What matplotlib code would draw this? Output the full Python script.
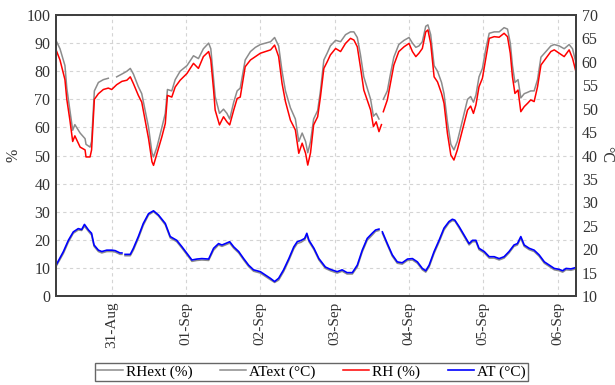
import matplotlib
matplotlib.use('Agg')
import matplotlib.pyplot as plt
import matplotlib.dates as mdates
import numpy as np
import pandas as pd

nan = np.nan

# hours counted from 30-Aug 00:00
rh_hours = [6.0, 7.3, 8.9, 9.5, 10.5, 11.4, 12.1, 13.8, 15.4, 15.7, 17.0, 17.5, 18.4, 19.7, 21.3,
            22.9, 24.0, 25.6, 27.3, 28.9, 30.0, 31.0, 32.6, 33.7, 34.8, 35.9, 37.0, 37.5, 38.6, 40.2,
            41.3, 42.0, 43.4, 44.5, 46.1, 48.3, 50.4, 52.0, 53.6, 55.3, 56.0, 56.9, 57.4, 58.8, 60.1,
            61.2, 62.1, 63.4, 64.5, 65.5, 67.1, 68.8, 70.4, 72.0, 73.6, 75.3, 76.6, 77.9, 79.0, 80.1,
            81.7, 83.3, 84.4, 85.5, 86.6, 87.3, 88.2, 89.2, 90.5, 91.4, 92.5, 93.6, 94.6, 96.3, 97.9,
            99.5, 101.1, 102.2, 103.3, 104.3, 105.4, 106.5, 107.6, 108.5, 109.4, 110.3, 111.1, 111.4, 111.7, 113.0,
            114.0, 115.1, 116.7, 118.4, 120.0, 121.1, 122.2, 123.2, 124.3, 125.4, 126.1, 127.0, 128.1, 129.2, 130.5,
            131.3, 132.4, 133.5, 134.5, 135.6, 136.7, 137.8, 138.9, 139.9, 140.8, 141.6, 142.6, 143.7, 144.8, 145.9,
            147.5, 149.1, 150.7, 151.8, 152.7, 153.4, 154.2, 155.2, 156.1, 157.2, 158.3, 159.3, 160.4, 161.5, 162.6,
            164.2, 165.8, 166.9, 168.5, 170.1, 171.7, 172.8, 173.9]

rh = [87.7, 84, 77, 70, 62.6, 55, 57, 53, 52, 49.5, 49.5, 52, 70, 72, 73.5,
      74, 73.5, 75.2, 76.4, 76.8, 78, 75.6, 71.4, 69, 62.5, 56, 47.8, 46.5, 50.7, 56.7,
      61.4, 71.4, 70.8, 74.4, 76.8, 79.2, 82.8, 81, 85.2, 87, 84, 73.3, 66.2, 60.9, 63.8,
      62, 60.9, 66.2, 70.3, 70.8, 81.6, 84, 85.2, 86.4, 87, 87.6, 89.3, 85.2, 75.7, 69.2,
      62.6, 59.1, 50.8, 54.4, 50.8, 46.6, 51, 60.9, 63.8, 70.9, 81, 83.4, 85.8, 88.1, 87,
      89.9, 91.7, 91.1, 88.7, 81.6, 73.3, 69.8, 66.2, 60.3, 62, 58.5, 61, nan, 65.6, 69.8,
      75.7, 82.2, 87, 88.7, 89.9, 87, 85.2, 86.4, 88.1, 94, 94.7, 89.9, 78, 76.2, 72.1,
      68.6, 57.9, 50.2, 48.4, 52, 56.7, 61.4, 66.2, 67.6, 65, 68, 74.5, 77.5, 84.6, 91.7,
      92.3, 92.1, 93.5, 92.3, 86.4, 78, 72.1, 73.3, 65.6, 67.4, 68.6, 69.8, 69.2, 74.5, 82.2,
      84.6, 87, 87.6, 86.4, 85.2, 87.6, 84.6, 79.8]

rh_ext = [91, 88, 82, 74, 66, 59, 61, 58, 56, 54, 53, 55, 73, 76, 77,
          77.5, nan, 78, 79, 80, 81, 79, 74.5, 72, 66, 60, 51, 49.5, 53, 60,
          65, 73.5, 73, 77, 80, 82, 85.5, 84.5, 88, 90, 88, 77, 71, 65, 66.5,
          65, 63, 69, 73, 74, 84, 87, 88.5, 89.5, 90, 90.5, 92, 89, 80, 73,
          67, 63, 55, 58, 55, 51, 55, 63, 66, 73, 84, 86.5, 89, 91, 90.5,
          93, 94, 94, 92, 86, 78, 74, 70, 64, 65, 63, nan, nan, 70, 73,
          79, 85, 89.5, 91, 92, 90, 88.5, 89, 90.5, 96, 96.5, 93, 82, 80, 76,
          72, 62, 54, 52, 55, 60, 65, 70, 71, 69, 71.5, 78, 81, 88, 93.5,
          94, 94, 95.5, 95, 90, 82, 76, 77, 70.5, 72, 72.5, 73, 73, 77, 85,
          87, 89, 89.5, 89, 88, 89.5, 88, 83]

at_hours = [6.2, 8.4, 10.0, 11.6, 13.2, 14.3, 15.2, 16.5, 17.5, 18.3, 19.7, 20.8, 22.4, 24.0, 25.1,
            26.7, 27.3, 27.8, 28.3, 30.0, 31.0, 32.6, 34.2, 35.9, 37.5, 39.1, 41.3, 42.9, 45.0, 46.7,
            48.3, 49.9, 51.5, 53.1, 55.3, 56.9, 58.5, 59.6, 60.7, 62.1, 63.4, 65.0, 66.6, 68.2, 69.8,
            72.0, 73.6, 75.2, 76.6, 77.9, 79.5, 81.2, 82.8, 83.9, 85.2, 86.3, 87.0, 87.7, 89.3, 90.9,
            93.0, 94.6, 96.8, 98.4, 100.0, 101.7, 103.3, 104.9, 106.5, 108.1, 109.2, 110.3, 110.8, 111.4, 113.0,
            114.6, 116.2, 117.8, 119.5, 121.1, 122.7, 124.3, 125.4, 126.5, 128.1, 129.7, 131.3, 132.9, 134.0, 134.8,
            136.2, 137.8, 139.4, 140.5, 141.6, 142.6, 144.3, 145.9, 147.5, 149.1, 150.7, 152.3, 153.9, 155.0, 156.1,
            157.2, 158.8, 160.4, 162.0, 163.7, 165.3, 166.9, 168.5, 169.6, 170.7, 172.3, 173.9]

at = [16.8, 19.5, 21.9, 23.7, 24.4, 24.2, 25.3, 24.1, 23.4, 20.9, 19.8, 19.5, 19.8, 19.8, 19.7,
      19.2, 19.2, nan, 18.9, 18.9, 20.2, 22.7, 25.5, 27.6, 28.2, 27.3, 25.5, 22.7, 21.9, 20.5,
      19.1, 17.7, 17.9, 18.0, 17.9, 20.2, 21.2, 20.9, 21.2, 21.6, 20.5, 19.5, 18.0, 16.6, 15.6,
      15.2, 14.5, 13.8, 13.1, 13.8, 15.6, 18.0, 20.5, 21.6, 21.9, 22.3, 23.4, 21.9, 20.2, 18.0,
      16.2, 15.7, 15.2, 15.6, 15.0, 15.0, 16.6, 19.8, 22.3, 23.4, 24.1, 24.3, nan, 23.7, 21.2,
      18.8, 17.3, 17.1, 17.9, 18.0, 17.3, 15.9, 15.4, 16.6, 19.5, 21.9, 24.5, 25.9, 26.4, 26.2,
      24.8, 23.0, 21.2, 21.9, 21.9, 20.2, 19.5, 18.4, 18.4, 18.0, 18.4, 19.5, 20.9, 21.2, 22.7,
      20.9, 20.2, 19.8, 18.8, 17.3, 16.6, 15.9, 15.7, 15.4, 15.9, 15.8, 16.1]

at_ext = [16.5, 19.1, 21.5, 23.4, 24.1, 24.0, 24.9, 23.8, 23.0, 20.6, 19.5, 19.2, 19.5, 19.5, 19.4,
          18.9, 18.9, nan, 18.6, 18.6, 19.8, 22.3, 25.1, 27.3, 28.0, 27.1, 25.2, 22.4, 21.6, 20.2,
          18.8, 17.4, 17.6, 17.7, 17.6, 19.8, 20.9, 20.6, 20.9, 21.3, 20.2, 19.2, 17.7, 16.3, 15.3,
          14.9, 14.2, 13.5, 12.9, 13.4, 15.2, 17.6, 20.1, 21.2, 21.5, 22.0, 23.0, 21.6, 19.9, 17.7,
          15.9, 15.4, 14.9, 15.3, 14.7, 14.7, 16.2, 19.4, 21.9, 23.0, 23.8, 24.0, nan, 23.4, 20.9,
          18.5, 17.0, 16.8, 17.6, 17.7, 17.0, 15.6, 15.1, 16.2, 19.1, 21.5, 24.1, 25.6, 26.1, 26.0,
          24.5, 22.7, 20.9, 21.6, 21.6, 19.9, 19.2, 18.1, 18.1, 17.7, 18.1, 19.2, 20.6, 20.9, 22.3,
          20.6, 19.9, 19.5, 18.5, 17.0, 16.3, 15.6, 15.4, 15.1, 15.6, 15.5, 15.8]

start = pd.Timestamp('2015-08-30')
rh_time = start + pd.to_timedelta(rh_hours, unit='h')
at_time = start + pd.to_timedelta(at_hours, unit='h')

plt.rcParams['font.family'] = ['Liberation Serif', 'DejaVu Serif']
plt.rcParams['font.size'] = 11.5

fig = plt.figure(figsize=(6.15, 3.85), dpi=100)
ax = fig.add_axes([0.091, 0.231, 0.846, 0.730])
ax2 = ax.twinx()

l1, = ax.plot(rh_time, rh_ext, color='#8c8c8c', lw=1.1, label='RHext (%)')
l3, = ax.plot(rh_time, rh, color='#ff0000', lw=1.1, label='RH (%)')
l2, = ax2.plot(at_time, at_ext, color='#8c8c8c', lw=1.1, label='AText (°C)')
l4, = ax2.plot(at_time, at, color='#0000ff', lw=1.2, label='AT (°C)')

ax.set_xlim(start + pd.Timedelta(hours=6), start + pd.Timedelta(hours=174))
ax.set_ylim(0, 100)
ax2.set_ylim(10, 70)
ax.set_yticks(np.arange(0, 101, 10))
ax2.set_yticks(np.arange(10, 71, 5))

ax.xaxis.set_major_locator(mdates.DayLocator())
ax.xaxis.set_major_formatter(mdates.DateFormatter('%d-%b'))
plt.setp(ax.get_xticklabels(), rotation=90, fontsize=11)

ax.grid(True, color='#d4d4d4', linestyle=(0, (3, 3)), linewidth=0.8)
ax.set_axisbelow(True)
ax.tick_params(axis='both', length=0, pad=4, colors='#333333')
ax2.tick_params(axis='y', length=0, pad=4, colors='#333333')
for a in (ax, ax2):
    for s in a.spines.values():
        s.set_color('#404040')
        s.set_linewidth(1.4)

fig.text(0.022, 0.597, '%', rotation=90, ha='center', va='center', color='#333333')
fig.text(0.985, 0.600, '°C', rotation=-90, ha='center', va='center', color='#333333')

fig.legend(handles=[l1, l2, l3, l4], loc='center', bbox_to_anchor=(0.506, 0.034), ncol=4,
           frameon=True, fancybox=False, edgecolor='#404040', handlelength=1.7,
           columnspacing=1.8, handletextpad=0.2, borderpad=0.15, fontsize=11)

fig.savefig('out.png', dpi=100)
